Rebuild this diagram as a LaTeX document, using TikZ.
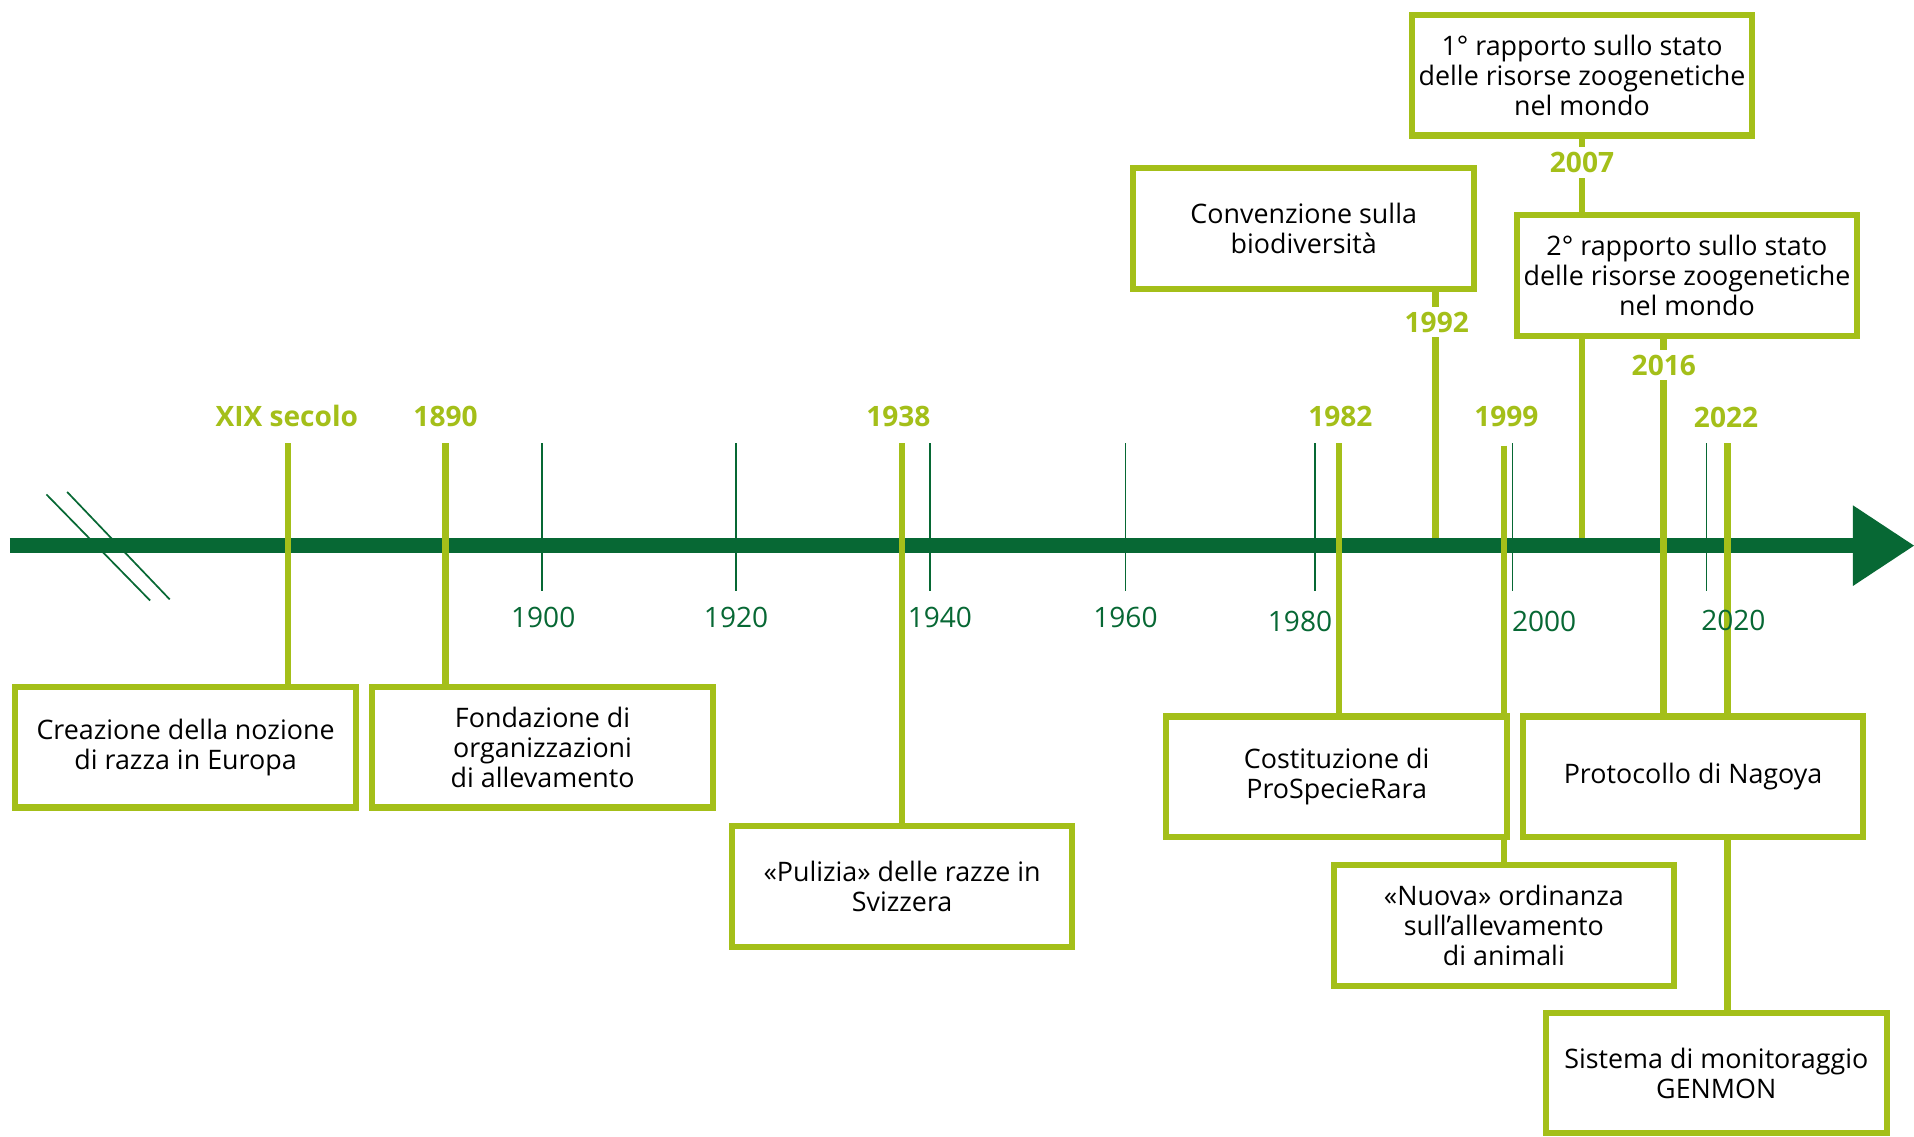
\documentclass[tikz,border=0pt]{standalone}
\usepackage{fontspec}
\setmainfont{Open Sans}
\definecolor{lg}{RGB}{164,191,25}
\definecolor{dg}{RGB}{7,104,52}
\pgfdeclarelayer{bgl}
\pgfdeclarelayer{axl}
\pgfdeclarelayer{conl}
\pgfsetlayers{bgl,axl,conl,main}
\begin{document}
\begin{tikzpicture}[x=0.5pt,y=-0.5pt,
  box/.style={draw=lg,line width=2.5pt,fill=white,minimum width=139.5pt,minimum height=49.5pt,inner sep=0pt,align=center,font=\fontsize{11}{12.3}\selectfont,text=black},
  yr/.style={text=lg,font=\fontsize{11.5}{13}\selectfont\bfseries,inner sep=1pt},
  yrw/.style={yr,fill=white,inner sep=2pt},
  tk/.style={text=dg,font=\fontsize{11.5}{13}\selectfont,inner sep=0pt},
  conn/.style={draw=lg,line width=2.75pt},
  minor/.style={draw=dg,line width=0.7pt},
  axisline/.style={draw=dg,line width=6pt}]

\begin{pgfonlayer}{bgl}
\useasboundingbox[fill=white] (0,0) rectangle (1568,931);
\end{pgfonlayer}

% boxes
\node[box] (bCre) at (152,612) {Creazione della nozione\\di razza in Europa};
\node[box] (bFon) at (444.5,612) {Fondazione di\\organizzazioni\\di allevamento};
\node[box] (bPul) at (739,726.5) {«Pulizia» delle razze in\\Svizzera};
\node[box] (bCon) at (1068,187) {Convenzione sulla\\biodiversità};
\node[box] (bR1) at (1296,61.5) {1° rapporto sullo stato\\delle risorse zoogenetiche\\nel mondo};
\node[box] (bR2) at (1382,225.5) {2° rapporto sullo stato\\delle risorse zoogenetiche\\nel mondo};
\node[box] (bCos) at (1095,636.5) {Costituzione di\\ProSpecieRara};
\node[box] (bNuo) at (1232,758) {«Nuova» ordinanza\\sull’allevamento\\di animali};
\node[box] (bNag) at (1387,636.5) {Protocollo di Nagoya};
\node[box] (bGen) at (1406,879) {Sistema di monitoraggio\\GENMON};

% year labels
\node[yr] (yXIX) at (235,341) {XIX secolo};
\node[yr] (y1890) at (365,341) {1890};
\node[yr] (y1938) at (736,341) {1938};
\node[yr] (y1982) at (1098,341) {1982};
\node[yr] (y1999) at (1234,341) {1999};
\node[yr] (y2022) at (1414,342) {2022};
\node[yrw] (y1992) at (1177,264) {1992};
\node[yrw] (y2007) at (1296,133) {2007};
\node[yrw] (y2016) at (1363,299) {2016};

% tick labels
\node[tk] (l1900) at (445,506) {1900};
\node[tk] (l1920) at (603,506) {1920};
\node[tk] (l1940) at (770,506) {1940};
\node[tk] (l1960) at (922,506) {1960};
\node[tk] (l1980) at (1065,509) {1980};
\node[tk] (l2000) at (1265,509) {2000};
\node[tk] (l2020) at (1420,508) {2020};

\begin{pgfonlayer}{axl}
  \coordinate (b1a) at (38,405); \coordinate (b1b) at (123,492);
  \coordinate (b2a) at (55,403); \coordinate (b2b) at (139,491);
  \draw[minor] (b1a) -- (b1b);
  \draw[minor] (b2a) -- (b2b);
  \coordinate (axL) at (8,447);
  \coordinate (axR) at (1520,447);
  \coordinate (axT) at (1568,447);
  \coordinate (arU) at (1518,414);
  \coordinate (arD) at (1518,480);
  \draw[axisline] (axL) -- (axR);
  \fill[dg] (arU) -- (axT) -- (arD) -- cycle;
  \foreach \x/\n in {444/1900,603/1920,762/1940,922/1960,1077/1980,1239/2000,1398/2020}{
    \coordinate (m\n t) at (\x,363);
    \coordinate (m\n b) at (\x,484);
    \draw[minor] (m\n t) -- (m\n b);
  }
\end{pgfonlayer}

\begin{pgfonlayer}{conl}
  \coordinate (tXIX) at (236,363);
  \coordinate (t1890) at (365,363);
  \coordinate (t1938) at (739,363);
  \coordinate (t1982) at (1097,363);
  \coordinate (t1999) at (1232,365);
  \coordinate (t2022) at (1415,363);
  \coordinate (a1992) at (1176,441);
  \coordinate (a2007) at (1296,441);
  \coordinate (x2016) at (1363,0);
  \draw[conn] (tXIX) -- (tXIX |- bCre.north);
  \draw[conn] (t1890) -- (t1890 |- bFon.north);
  \draw[conn] (t1938) -- (bPul.north);
  \draw[conn] (t1982) -- (t1982 |- bCos.north);
  \draw[conn] (t1999) -- (bNuo.north);
  \draw[conn] (t2022) -- (t2022 |- bGen.north);
  \draw[conn] (a1992 |- bCon.south) -- (a1992);
  \draw[conn] (bR1.south) -- (a2007);
  \draw[conn] (x2016 |- bR2.south) -- (x2016 |- bNag.north);
\end{pgfonlayer}
\end{tikzpicture}
\end{document}
